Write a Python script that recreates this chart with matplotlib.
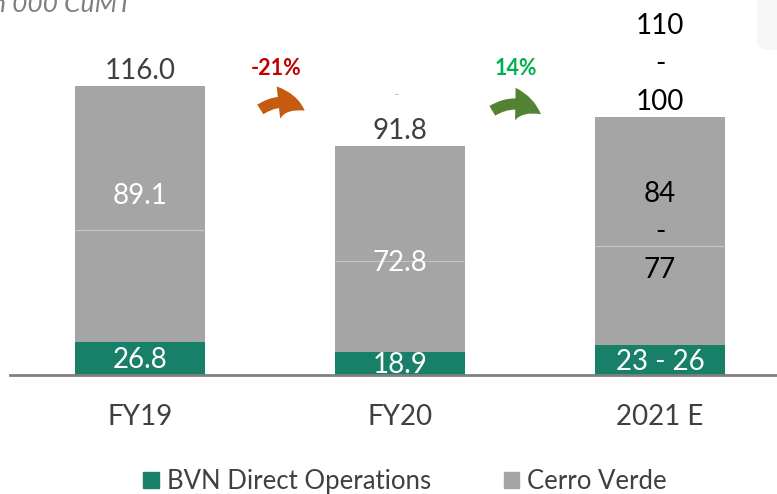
import matplotlib
matplotlib.use("Agg")
import matplotlib.pyplot as plt
from matplotlib.patches import FancyArrowPatch, FancyBboxPatch, Patch

# ---- data ----
categories = ["FY19", "FY20", "2021 E"]
bvn_height = [13.3, 9.3, 12.0]          # drawn height of BVN segment (as in picture)
total_height = [116.0, 91.8, 103.8]     # drawn total height
split_height = [58.2, 45.8, 51.8]       # faint split line inside the grey segment
bvn_labels = ["26.8", "18.9", "23 - 26"]
cv_labels = ["89.1", "72.8", "84\n-\n77"]
total_labels = ["116.0", "91.8", "110\n-\n100"]
change_labels = ["-21%", "14%"]
series_names = ["BVN Direct Operations", "Cerro Verde"]

# ---- style ----
GREEN = "#188068"
GREY = "#a5a5a5"
DARK = "#404040"
FONT = "Lato"
plt.rcParams["font.family"] = [FONT, "DejaVu Sans"]
NUM_FS = 20

W, H = 777, 494
fig = plt.figure(figsize=(W / 100, H / 100), dpi=100)
base_px = 119
ax = fig.add_axes([10 / W, base_px / H, 767 / W, (H - base_px) / H])
ax.set_xlim(-0.5, 2.45)
ax.set_ylim(0, 375 / 2.49)

x = list(range(len(categories)))
cv_height = [t - b for t, b in zip(total_height, bvn_height)]
bw = 0.5
ax.bar(x, bvn_height, width=bw, color=GREEN, zorder=2)
ax.bar(x, cv_height, width=bw, bottom=bvn_height, color=GREY, zorder=2)
for xi, s in zip(x, split_height):
    ax.hlines(s, xi - bw / 2, xi + bw / 2, color="#c4c4c4", lw=0.8, zorder=3)

# spines / ticks
for sp in ["top", "right", "left"]:
    ax.spines[sp].set_visible(False)
ax.spines["bottom"].set_color("#7f7f7f")
ax.spines["bottom"].set_linewidth(2.0)
ax.spines["bottom"].set_zorder(4)
ax.set_yticks([])
ax.set_xticks(x)
ax.set_xticklabels(categories, fontsize=20, color=DARK)
ax.tick_params(axis="x", length=0, pad=21)

# labels
cv_label_y = [71.9, 45.0, 57.4]
cv_label_col = ["white", "white", "black"]
for xi, b, lab in zip(x, bvn_height, bvn_labels):
    ax.text(xi, b / 2 - 0.6, lab, ha="center", va="center", color="white",
            fontsize=NUM_FS, zorder=5)
for xi, yy, lab, c in zip(x, cv_label_y, cv_labels, cv_label_col):
    ax.text(xi, yy, lab, ha="center", va="center", color=c, fontsize=NUM_FS,
            linespacing=1.57, zorder=5)
total_col = [DARK, DARK, "black"]
for xi, t, lab, c in zip(x, total_height, total_labels, total_col):
    ax.text(xi, t + 0.8, lab, ha="center", va="bottom", color=c, fontsize=NUM_FS,
            linespacing=1.57, zorder=5)

# change arrows
arrow_cols = ["#c55a11", "#548235"]
text_cols = ["#c00000", "#00b050"]
text_x = [0.523, 1.446]
arrow_start = [(0.454, 106.0), (1.346, 105.5)]
arrow_end = [(0.642, 105.5), (1.550, 104.0)]
for lab, ac, tc, tx, st, en in zip(change_labels, arrow_cols, text_cols,
                                   text_x, arrow_start, arrow_end):
    ax.text(tx, 123.0, lab, ha="center", va="center",
            color=tc, fontsize=15.5, fontweight="bold")
    arr = FancyArrowPatch(st, en,
                          arrowstyle="simple,head_width=1.3,head_length=1.1,tail_width=0.45",
                          connectionstyle="arc3,rad=-0.38", mutation_scale=18,
                          color=ac, lw=0, zorder=5)
    ax.add_patch(arr)

# faint dash artifact
ax.text(0.985, 112.5, "-", ha="center", va="center", color="#aaaaaa", fontsize=8)

# unit label (partially cut at top-left, as in the source)
fig.text(-8 / W, (H - 12) / H, "n 000 CuMT", ha="left", va="baseline",
         color="#7f7f7f", fontsize=19, style="italic")

# top-right rounded panel edge
fig.patches.append(FancyBboxPatch((757 / W, (H - 50) / H), 40 / W, 70 / H,
                                  boxstyle="round,pad=0,rounding_size=0.02",
                                  transform=fig.transFigure, facecolor="#f6f6f6",
                                  edgecolor="none", zorder=0))

# legend
handles = [Patch(color=GREEN), Patch(color=GREY)]
leg = fig.legend(handles, series_names, loc="center", bbox_to_anchor=(405 / W, 12.5 / H),
                 ncol=2, frameon=False, fontsize=18.5, handlelength=0.6,
                 handleheight=0.6, handletextpad=0.3, columnspacing=2.85,
                 labelcolor=DARK, borderpad=0, borderaxespad=0)

fig.savefig("out.png", dpi=100)
